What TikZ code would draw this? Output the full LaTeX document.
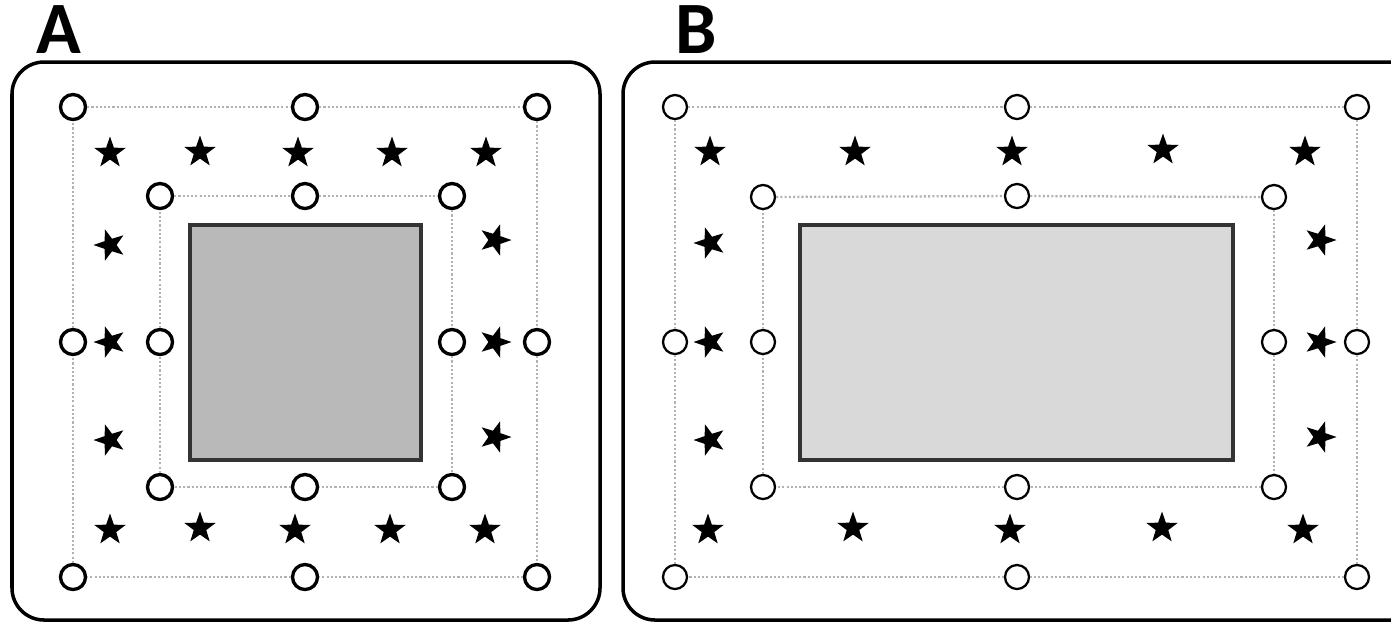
\documentclass[tikz,border=0pt]{standalone}
\usepackage{fontspec}
\setsansfont{Carlito}
\usetikzlibrary{shapes.geometric}

\tikzset{
  panel/.style={draw=black, line width=1pt, rounded corners=0.32cm},
  ringA/.style={circle, draw=black, line width=0.95pt, fill=white, minimum size=0.25cm, inner sep=0pt},
  ringB/.style={circle, draw=black, line width=0.65pt, fill=white, minimum size=0.24cm, inner sep=0pt},
  starmark/.style={star, star points=5, star point ratio=2.5, fill=black, minimum size=0.33cm, inner sep=0pt},
  gridline/.style={draw=gray!60, line width=0.65pt, dash pattern=on 0.6pt off 0.6pt},
  core/.style={rectangle, draw=black!80, line width=1pt, inner sep=0pt},
  tag/.style={font=\sffamily\bfseries\fontsize{21}{21}\selectfont, inner sep=0pt}
}

\begin{document}
\begin{tikzpicture}[x=0.01cm, y=-0.01cm]
    \useasboundingbox (0,0) rectangle (1391,623);
    \begin{scope}
    \clip (0,0) rectangle (1391,623);
    % the two panels
    \draw[panel] (12,62) rectangle (600,620);
    \draw[panel] (623,62) rectangle (1425,620);
    \end{scope}
    \node[tag] (labA) at (59,30) {A};
    \node[tag] (labB) at (696,30) {B};

    % panel A
    \node[core, fill=gray!55, minimum width=2.31cm, minimum height=2.35cm] (coreA) at (305.5,342.5) {};
    \foreach \n/\x/\y in {1/73/107, 2/305/107, 3/537/107, 4/537/342, 5/537/577, 6/305/577, 7/73/577, 8/73/342}
        \node[ringA] (ao\n) at (\x,\y) {};
    \foreach \n/\x/\y in {1/160/196, 2/305/196, 3/452/196, 4/452/342, 5/452/487, 6/305/487, 7/160/487, 8/160/342}
        \node[ringA] (ai\n) at (\x,\y) {};
    \foreach \x/\y in {110/153, 200/152, 298/153, 392/153, 486/153, 110/530, 200/528, 295/530, 390/530, 485/530}
        \node[starmark] at (\x,\y) {};
    \foreach \y in {245, 342, 440}
        \node[starmark, rotate=90] at (110,\y) {};
    \foreach \y in {240, 342, 437}
        \node[starmark, rotate=-90] at (495,\y) {};

    % panel B
    \node[core, fill=gray!30, minimum width=4.33cm, minimum height=2.35cm] (coreB) at (1016.5,342.5) {};
    \foreach \n/\x/\y in {1/675/107, 2/1017/107, 3/1357/107, 4/1357/342, 5/1357/577, 6/1017/577, 7/675/577, 8/675/342}
        \node[ringB] (bo\n) at (\x,\y) {};
    \foreach \n/\x/\y in {1/763/197, 2/1017/196, 3/1274/197, 4/1274/342, 5/1274/487, 6/1017/487, 7/763/487, 8/763/342}
        \node[ringB] (bi\n) at (\x,\y) {};
    \foreach \x/\y in {710/152, 855/152, 1012/152, 1163/150, 1305/152, 708/530, 853/528, 1010/530, 1162/528, 1303/530}
        \node[starmark] at (\x,\y) {};
    \foreach \y in {243, 342, 440}
        \node[starmark, rotate=90] at (710,\y) {};
    \foreach \y in {240, 342, 437}
        \node[starmark, rotate=-90] at (1320,\y) {};

    % dotted frames through the rings
    \foreach \a/\b in {1/2, 2/3, 3/4, 4/5, 5/6, 6/7, 7/8, 8/1} {
        \draw[gridline] (ao\a) -- (ao\b);
        \draw[gridline] (ai\a) -- (ai\b);
        \draw[gridline] (bo\a) -- (bo\b);
        \draw[gridline] (bi\a) -- (bi\b);
    }
\end{tikzpicture}
\end{document}
